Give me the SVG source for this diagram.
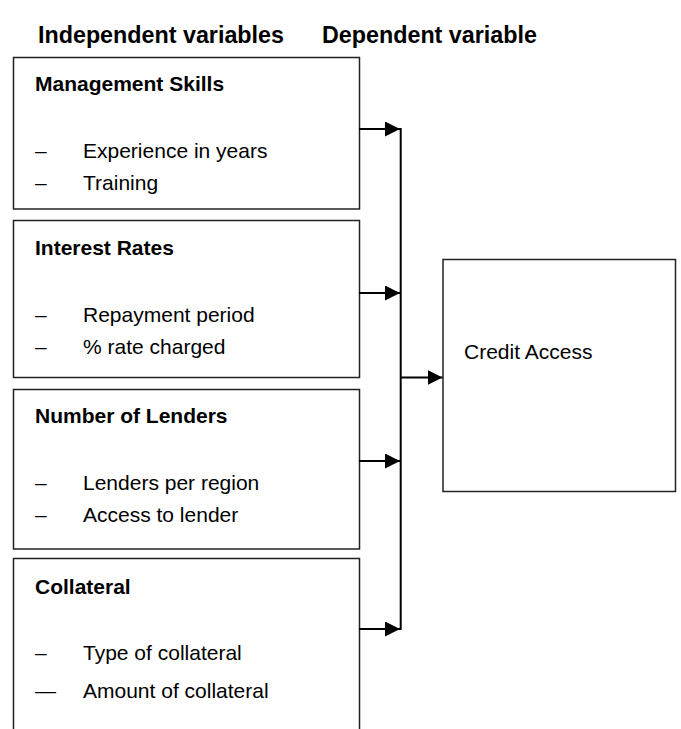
<svg xmlns="http://www.w3.org/2000/svg" width="681" height="729" viewBox="0 0 681 729">
<style>
.box{fill:#fff;stroke:#222;stroke-width:1.5}
.hdr{font-family:"Liberation Sans",Arial,sans-serif;font-weight:bold;font-size:23.3px;fill:#000}
.ttl{font-family:"Liberation Sans",Arial,sans-serif;font-weight:bold;font-size:21px;fill:#000}
.itm{font-family:"Liberation Sans",Arial,sans-serif;font-size:21px;fill:#000}
.con{stroke:#000;stroke-width:2;fill:none}
</style>
<defs>
<marker id="ah" markerUnits="userSpaceOnUse" markerWidth="16" markerHeight="16" refX="15" refY="7.5" orient="auto">
<path d="M0,0 L15,7.5 L0,15 z" fill="#000"/>
</marker>
</defs>
<rect width="681" height="729" fill="#fff"/>
<g id="header">
<text class="hdr" x="38" y="43">Independent variables</text>
<text class="hdr" x="322" y="43">Dependent variable</text>
</g>
<g id="management-skills">
<rect class="box" x="13.5" y="57.5" width="346" height="151.5"/>
<text class="ttl" x="35" y="91">Management Skills</text>
<text class="itm" x="35" y="158">–</text><text class="itm" x="83" y="158">Experience in years</text>
<text class="itm" x="35" y="190">–</text><text class="itm" x="83" y="190">Training</text>
</g>
<g id="interest-rates">
<rect class="box" x="13.5" y="220.5" width="346" height="157"/>
<text class="ttl" x="35" y="255">Interest Rates</text>
<text class="itm" x="35" y="322">–</text><text class="itm" x="83" y="322">Repayment period</text>
<text class="itm" x="35" y="354">–</text><text class="itm" x="83" y="354">% rate charged</text>
</g>
<g id="number-of-lenders">
<rect class="box" x="13.5" y="389.5" width="346" height="159.5"/>
<text class="ttl" x="35" y="423">Number of Lenders</text>
<text class="itm" x="35" y="490">–</text><text class="itm" x="83" y="490">Lenders per region</text>
<text class="itm" x="35" y="522">–</text><text class="itm" x="83" y="522">Access to lender</text>
</g>
<g id="collateral">
<path class="box" d="M13.5,731 L13.5,558.5 L359.5,558.5 L359.5,731"/>
<text class="ttl" x="35" y="594">Collateral</text>
<text class="itm" x="35" y="660">–</text><text class="itm" x="83" y="660">Type of collateral</text>
<text class="itm" x="35" y="698">—</text><text class="itm" x="83" y="698">Amount of collateral</text>
</g>
<g id="credit-access">
<rect class="box" x="443" y="259.5" width="232.5" height="232"/>
<text class="itm" x="464" y="359">Credit Access</text>
</g>
<g id="connectors">
<line class="con" x1="400.7" y1="128" x2="400.7" y2="630"/>
<line class="con" x1="359" y1="129" x2="400" y2="129" marker-end="url(#ah)"/>
<line class="con" x1="359" y1="293" x2="400" y2="293" marker-end="url(#ah)"/>
<line class="con" x1="359" y1="461" x2="400" y2="461" marker-end="url(#ah)"/>
<line class="con" x1="359" y1="629" x2="400" y2="629" marker-end="url(#ah)"/>
<line class="con" x1="400.7" y1="377.5" x2="442.5" y2="377.5" marker-end="url(#ah)"/>
</g>
</svg>
